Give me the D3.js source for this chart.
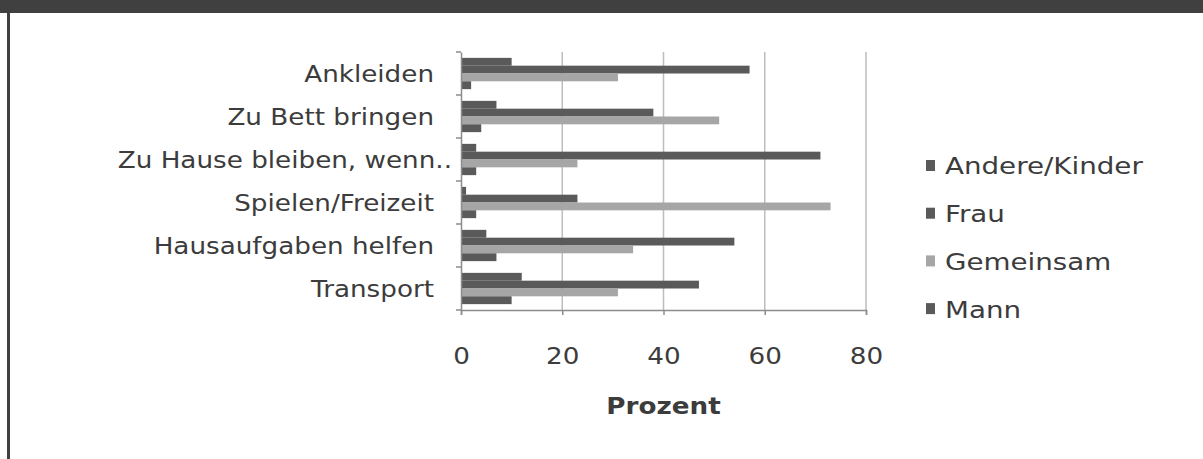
<!DOCTYPE html>
<html>
<head>
<meta charset="utf-8">
<script src="https://cdn.jsdelivr.net/npm/d3@7"></script>
<style>
  body { margin: 0; background: #fff; }
  svg { display: block; }
  text { font-family: "DejaVu Sans", Verdana, sans-serif; fill: #3c3c3c; }
</style>
</head>
<body>
<svg id="chart" width="1203" height="459"></svg>
<script>
// categories top to bottom
const categories = ["Ankleiden", "Zu Bett bringen", "Zu Hause bleiben, wenn..", "Spielen/Freizeit", "Hausaufgaben helfen", "Transport"];
const seriesNames = ["Andere/Kinder", "Frau", "Gemeinsam", "Mann"];
const andereKinder = [10, 7, 3, 1, 5, 12];
const frau = [57, 38, 71, 23, 54, 47];
const gemeinsam = [31, 51, 23, 73, 34, 31];
const mann = [2, 4, 3, 3, 7, 10];
const xTicks = [0, 20, 40, 60, 80];

const seriesValues = [andereKinder, frau, gemeinsam, mann];
const colors = ["#5a5a5a", "#5a5a5a", "#a6a6a6", "#5a5a5a"];
const stretch = 1.14;

const svg = d3.select("#chart");

// frame
svg.append("rect").attr("x", 0).attr("y", 0).attr("width", 1203).attr("height", 13).attr("fill", "#404040");
svg.append("rect").attr("x", 7).attr("y", 13).attr("width", 3).attr("height", 446).attr("fill", "#404040");

const plotLeft = 461, plotRight = 866, plotTop = 52, plotBottom = 310;

const x = d3.scaleLinear().domain([0, 80]).range([plotLeft, plotRight]);
const y = d3.scaleBand().domain(categories).range([plotTop, plotBottom]);
// excel style: gap width 150%
const inner = d3.scaleBand().domain(seriesNames).range([0, y.bandwidth()]).paddingOuter(0.75).paddingInner(0);

// gridlines
svg.append("g")
  .selectAll("line")
  .data(xTicks.slice(1))
  .join("line")
  .attr("x1", d => x(d)).attr("x2", d => x(d))
  .attr("y1", plotTop).attr("y2", plotBottom)
  .attr("stroke", "#bdbdbd").attr("stroke-width", 1.5);

// bars
const rows = categories.map((c, i) => ({ cat: c, vals: seriesValues.map(s => s[i]) }));
svg.append("g")
  .selectAll("g")
  .data(rows)
  .join("g")
  .attr("transform", d => `translate(0,${y(d.cat)})`)
  .selectAll("rect")
  .data(d => d.vals.map((v, j) => ({ v, name: seriesNames[j], j })))
  .join("rect")
  .attr("x", x(0))
  .attr("y", d => inner(d.name))
  .attr("width", d => x(d.v) - x(0))
  .attr("height", inner.bandwidth())
  .attr("fill", d => colors[d.j]);

// y axis
const yAxis = svg.append("g")
  .attr("transform", `translate(${plotLeft},0)`)
  .call(d3.axisLeft(y).tickSize(0).tickPadding(0));
yAxis.select(".domain").attr("stroke", "#8c8c8c").attr("stroke-width", 1.5);
yAxis.selectAll("text")
  .attr("x", d => (d.endsWith("..") ? -9 : -27) / stretch)
  .attr("dy", "0.36em")
  .attr("transform", `scale(${stretch},1)`)
  .style("font-size", "23px")
  .style("font-family", "DejaVu Sans")
  .attr("fill", "#3c3c3c");
// category boundary ticks
svg.append("g")
  .selectAll("line")
  .data(categories.map(c => y(c)).concat([plotBottom]))
  .join("line")
  .attr("x1", plotLeft - 5).attr("x2", plotLeft)
  .attr("y1", d => d).attr("y2", d => d)
  .attr("stroke", "#8c8c8c").attr("stroke-width", 1.5);

// x axis
const xAxis = svg.append("g")
  .attr("transform", `translate(0,${plotBottom})`)
  .call(d3.axisBottom(x).tickValues(xTicks).tickSize(5).tickPadding(33));
xAxis.select(".domain").attr("stroke", "#8c8c8c").attr("stroke-width", 1.5);
xAxis.selectAll(".tick line").attr("stroke", "#8c8c8c").attr("stroke-width", 1.5);
xAxis.selectAll("text")
  .attr("transform", `scale(${stretch},1)`)
  .style("font-size", "23px")
  .style("font-family", "DejaVu Sans")
  .attr("fill", "#3c3c3c");

// axis title
svg.append("text")
  .attr("transform", `translate(${(plotLeft + plotRight) / 2},414) scale(${stretch},1)`)
  .attr("text-anchor", "middle")
  .style("font-size", "23px")
  .style("font-weight", "bold")
  .attr("fill", "#2e2e2e")
  .text("Prozent");

// legend
const legend = svg.append("g")
  .selectAll("g")
  .data(seriesNames)
  .join("g")
  .attr("transform", (d, i) => `translate(926,${166 + i * 47.7})`);
legend.append("rect")
  .attr("x", 0).attr("y", -6)
  .attr("width", 9).attr("height", 11)
  .attr("fill", (d, i) => colors[i]);
legend.append("text")
  .attr("transform", `translate(19,0) scale(1.18,1)`)
  .attr("dy", "0.36em")
  .style("font-size", "23.5px")
  .text(d => d);
</script>
</body>
</html>
